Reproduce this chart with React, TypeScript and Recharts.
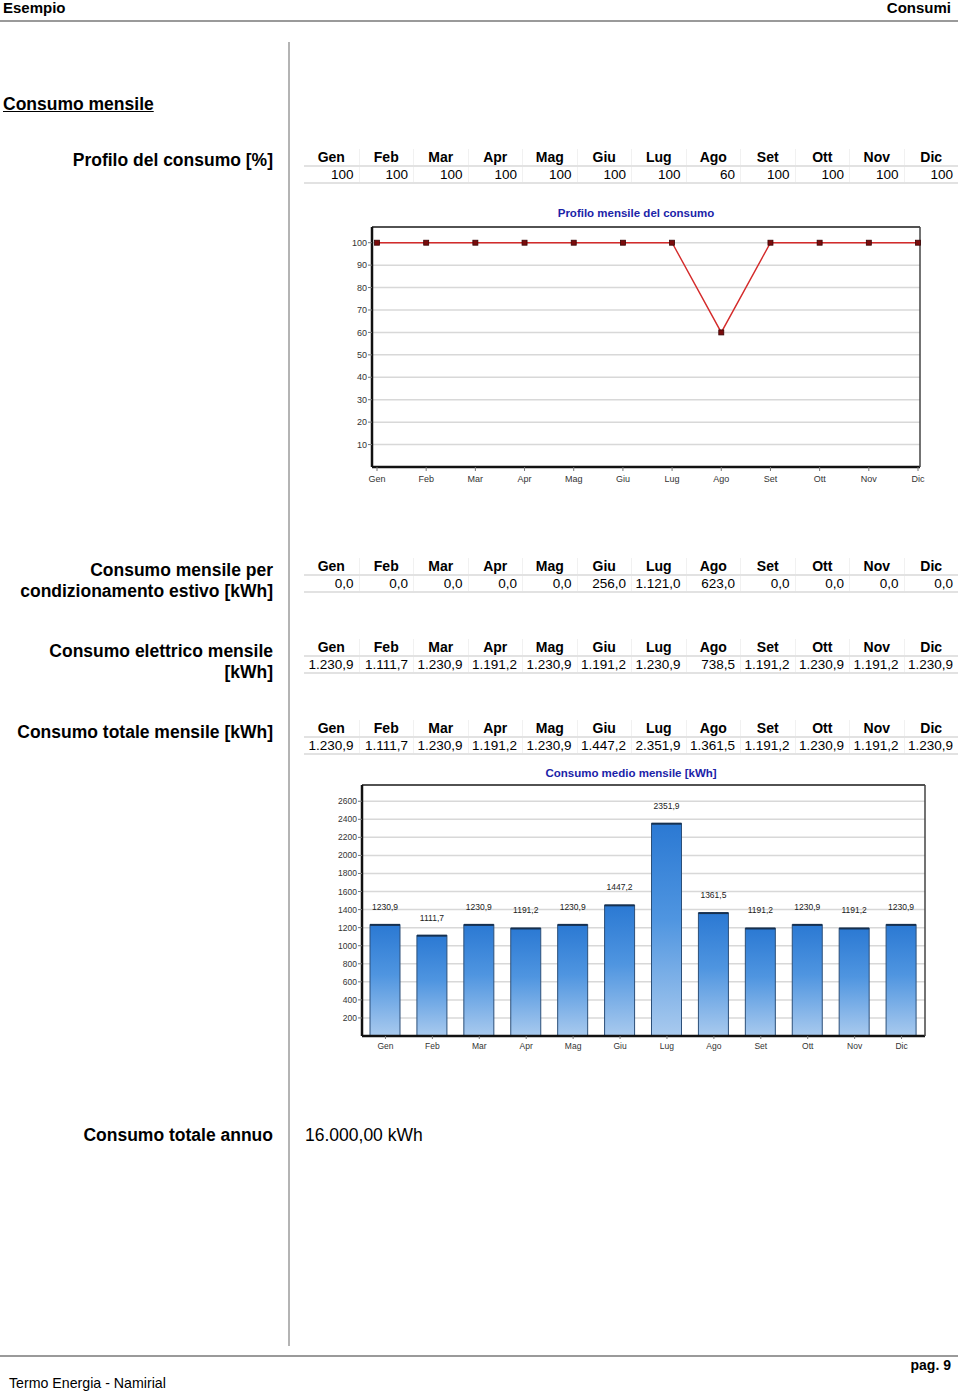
import React from "react";
import {
  LineChart,
  Line,
  BarChart,
  Bar,
  XAxis,
  YAxis,
  CartesianGrid,
  LabelList,
} from "recharts";

const MONTHS = ["Gen", "Feb", "Mar", "Apr", "Mag", "Giu", "Lug", "Ago", "Set", "Ott", "Nov", "Dic"];
const PROFILO = [100, 100, 100, 100, 100, 100, 100, 60, 100, 100, 100, 100];
const ESTIVO = [0, 0, 0, 0, 0, 256.0, 1121.0, 623.0, 0, 0, 0, 0];
const ELETTRICO = [1230.9, 1111.7, 1230.9, 1191.2, 1230.9, 1191.2, 1230.9, 738.5, 1191.2, 1230.9, 1191.2, 1230.9];
const TOTALE = [1230.9, 1111.7, 1230.9, 1191.2, 1230.9, 1447.2, 2351.9, 1361.5, 1191.2, 1230.9, 1191.2, 1230.9];
const PROFILO_TICKS = [10, 20, 30, 40, 50, 60, 70, 80, 90, 100];
const TOTALE_TICKS = [200, 400, 600, 800, 1000, 1200, 1400, 1600, 1800, 2000, 2200, 2400, 2600];

const FONT = '"Liberation Sans", Arial, Helvetica, sans-serif';
const TITLE_BLUE = "#1b23a8";

// italian number format: 1.230,9
function fmtIt(v: number, dec: number, thousands = true) {
  const [int, frac] = v.toFixed(dec).split(".");
  const i = thousands ? int.replace(/\B(?=(\d{3})+(?!\d))/g, ".") : int;
  return frac ? `${i},${frac}` : i;
}

const profiloData = MONTHS.map((m, i) => ({ m, v: PROFILO[i] }));
const totaleData = MONTHS.map((m, i) => ({ m, v: TOTALE[i] }));

type TxtProps = {
  x: number;
  y: number; // centre of the first line
  size: number;
  bold?: boolean;
  align?: "left" | "right" | "center";
  color?: string;
  underline?: boolean;
  lh?: number;
  children: React.ReactNode;
};

function Txt({ x, y, size, bold, align = "left", color = "#000", underline, lh, children }: TxtProps) {
  const lineH = lh ?? Math.round(size * 1.2);
  const style: React.CSSProperties = {
    position: "absolute",
    top: y - lineH / 2,
    fontSize: size,
    lineHeight: `${lineH}px`,
    fontWeight: bold ? 700 : 400,
    color,
    whiteSpace: "pre",
    textDecoration: underline ? "underline" : "none",
  };
  if (align === "left") style.left = x;
  else if (align === "right") {
    style.right = 960 - x;
    style.textAlign = "right";
  } else {
    style.left = x - 200;
    style.width = 400;
    style.textAlign = "center";
  }
  return <div style={style}>{children}</div>;
}

function MonthTable({ headerY, values, fmt }: { headerY: number; values: number[]; fmt: (v: number) => string }) {
  const sep = "1px solid #f1f1f1";
  return (
    <div style={{ position: "absolute", left: 304, top: headerY - 8, width: 654 }}>
      <div
        style={{
          display: "grid",
          gridTemplateColumns: "repeat(12, 1fr)",
          height: 16,
          lineHeight: "16px",
          borderBottom: "2px solid #e2e2e2",
          fontSize: 14,
          fontWeight: 700,
        }}
      >
        {MONTHS.map((m, i) => (
          <div key={m} style={{ borderLeft: i === 0 ? "none" : sep, textAlign: "center" }}>
            {m}
          </div>
        ))}
      </div>
      <div
        style={{
          display: "grid",
          gridTemplateColumns: "repeat(12, 1fr)",
          height: 15,
          lineHeight: "15px",
          borderBottom: "2px solid #e2e2e2",
          fontSize: 13.5,
        }}
      >
        {values.map((v, i) => (
          <div key={i} style={{ borderLeft: i === 0 ? "none" : sep, textAlign: "right", paddingRight: 5 }}>
            {fmt(v)}
          </div>
        ))}
      </div>
    </div>
  );
}

function SquareDot(props: any) {
  const { cx, cy, index } = props;
  if (cx == null || cy == null) return null;
  return <rect key={`d${index}`} x={cx - 2.5} y={cy - 2.5} width={5} height={5} fill="#7a0c0c" stroke="#3a0505" strokeWidth={0.8} />;
}

function GradBar(props: any) {
  const { x, y, width, height } = props;
  if (!height || height <= 0) return null;
  return (
    <g>
      <rect x={x} y={y} width={width} height={height} fill="url(#barGrad)" stroke="#2c4f78" strokeWidth={1} />
      <line x1={x} x2={x + width} y1={y} y2={y} stroke="#16304f" strokeWidth={2} />
    </g>
  );
}

const tickStyle = { fontSize: 9, fill: "#333" };

function ProfiloChart() {
  return (
    <div style={{ position: "absolute", left: 300, top: 220, width: 640, height: 280 }}>
      <LineChart width={640} height={280} data={profiloData} margin={{ top: 6, right: 19, bottom: 8, left: 0 }}>
        <CartesianGrid vertical={false} stroke="#d8d8d8" strokeWidth={1.5} />
        <XAxis
          dataKey="m"
          height={25}
          padding={{ left: 5, right: 2 }}
          tick={tickStyle}
          tickSize={4}
          tickMargin={5}
          tickLine={{ stroke: "#777" }}
          axisLine={{ stroke: "#111", strokeWidth: 2.5 }}
          interval={0}
        />
        <XAxis xAxisId="top" orientation="top" dataKey="m" height={1} tick={false} tickLine={false} axisLine={{ stroke: "#222", strokeWidth: 1.3 }} />
        <YAxis
          width={72}
          domain={[0, 107]}
          ticks={PROFILO_TICKS}
          tick={tickStyle}
          tickSize={4}
          tickMargin={1}
          tickLine={{ stroke: "#777" }}
          axisLine={{ stroke: "#111", strokeWidth: 2.5 }}
          interval={0}
        />
        <YAxis yAxisId="right" orientation="right" width={1} domain={[0, 1]} tick={false} tickLine={false} axisLine={{ stroke: "#444", strokeWidth: 1.5 }} />
        <Line
          dataKey="v"
          stroke="#d42b2b"
          strokeWidth={1.4}
          dot={<SquareDot />}
          activeDot={false}
          isAnimationActive={false}
        />
      </LineChart>
    </div>
  );
}

function TotaleChart() {
  return (
    <div style={{ position: "absolute", left: 300, top: 780, width: 640, height: 290 }}>
      <BarChart width={640} height={290} data={totaleData} margin={{ top: 4, right: 14, bottom: 10, left: 0 }}>
        <defs>
          <linearGradient id="barGrad" x1="0" y1="0" x2="0" y2="1">
            <stop offset="0%" stopColor="#2b79d3" />
            <stop offset="45%" stopColor="#4f95e0" />
            <stop offset="100%" stopColor="#a9caee" />
          </linearGradient>
        </defs>
        <CartesianGrid vertical={false} stroke="#d8d8d8" strokeWidth={1.5} />
        <XAxis
          dataKey="m"
          height={24}
          tick={{ fontSize: 8.5, fill: "#333" }}
          tickSize={3}
          tickMargin={4}
          tickLine={{ stroke: "#777" }}
          axisLine={{ stroke: "#111", strokeWidth: 2.5 }}
          interval={0}
        />
        <XAxis xAxisId="top" orientation="top" dataKey="m" height={1} tick={false} tickLine={false} axisLine={{ stroke: "#222", strokeWidth: 1.3 }} />
        <YAxis
          width={62}
          domain={[0, 2780]}
          ticks={TOTALE_TICKS}
          tick={{ fontSize: 8.5, fill: "#333" }}
          tickSize={4}
          tickMargin={1}
          tickLine={{ stroke: "#777" }}
          axisLine={{ stroke: "#111", strokeWidth: 2.5 }}
          interval={0}
        />
        <YAxis yAxisId="right" orientation="right" width={1} domain={[0, 1]} tick={false} tickLine={false} axisLine={{ stroke: "#444", strokeWidth: 1.5 }} />
        <Bar dataKey="v" barSize={30} shape={<GradBar />} isAnimationActive={false}>
          <LabelList
            dataKey="v"
            position="top"
            offset={15}
            formatter={(v: any) => fmtIt(Number(v), 1, false)}
            fill="#222"
            fontSize={8.5}
          />
        </Bar>
      </BarChart>
    </div>
  );
}

export default function App() {
  const fmt1 = (v: number) => fmtIt(v, 1);
  const fmt0 = (v: number) => fmtIt(v, 0);
  return (
    <div
      style={{
        position: "absolute",
        left: 0,
        top: 0,
        width: 960,
        height: 1392,
        background: "#fff",
        fontFamily: FONT,
        color: "#000",
        overflow: "hidden",
      }}
    >
      {/* page header */}
      <Txt x={3} y={8} size={15} bold>Esempio</Txt>
      <Txt x={951} y={8} size={15} bold align="right">Consumi</Txt>
      <div style={{ position: "absolute", left: 0, top: 20, width: 958, height: 2, background: "#9a9a9a" }} />

      {/* column separator */}
      <div style={{ position: "absolute", left: 288, top: 42, width: 2, height: 1304, background: "#b4b4b4" }} />

      <Txt x={3} y={104} size={17.5} bold underline>Consumo mensile</Txt>

      <Txt x={273} y={160} size={17.5} bold align="right">Profilo del consumo [%]</Txt>
      <MonthTable headerY={157} values={PROFILO} fmt={fmt0} />

      <Txt x={636} y={213} size={11.5} bold align="center" color={TITLE_BLUE}>Profilo mensile del consumo</Txt>
      <ProfiloChart />

      <Txt x={273} y={570} size={17.5} bold align="right" lh={21}>
        {"Consumo mensile per\ncondizionamento estivo [kWh]"}
      </Txt>
      <MonthTable headerY={566} values={ESTIVO} fmt={fmt1} />

      <Txt x={273} y={651} size={17.5} bold align="right" lh={21}>
        {"Consumo elettrico mensile\n[kWh]"}
      </Txt>
      <MonthTable headerY={647} values={ELETTRICO} fmt={fmt1} />

      <Txt x={273} y={732} size={17.5} bold align="right">Consumo totale mensile [kWh]</Txt>
      <MonthTable headerY={728} values={TOTALE} fmt={fmt1} />

      <Txt x={631} y={773} size={11.5} bold align="center" color={TITLE_BLUE}>Consumo medio mensile [kWh]</Txt>
      <TotaleChart />

      <Txt x={273} y={1135} size={17.5} bold align="right">Consumo totale annuo</Txt>
      <Txt x={305} y={1135} size={17.5}>16.000,00 kWh</Txt>

      {/* page footer */}
      <div style={{ position: "absolute", left: 0, top: 1355, width: 958, height: 2, background: "#9a9a9a" }} />
      <Txt x={951} y={1365} size={14} bold align="right">pag. 9</Txt>
      <Txt x={9} y={1383} size={14.2}>Termo Energia - Namirial</Txt>
    </div>
  );
}
